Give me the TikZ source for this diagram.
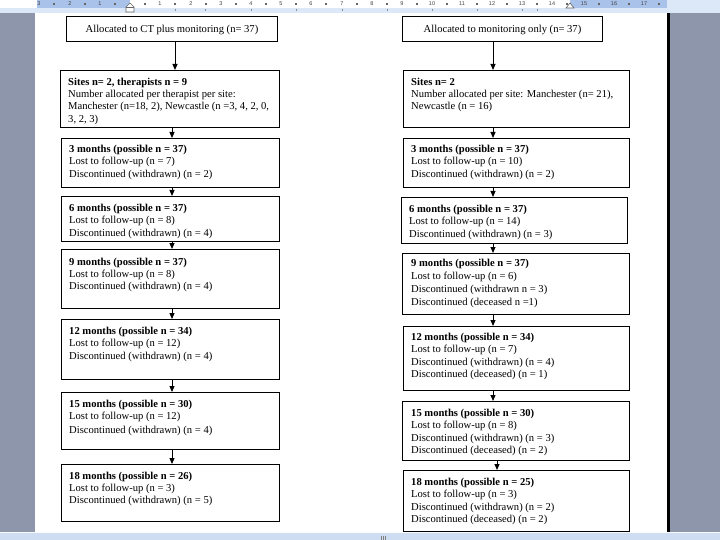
\documentclass[tikz,border=0pt]{standalone}
\usepackage{fontspec}
\setmainfont{Liberation Serif}
\newfontfamily\rulerfont{Liberation Sans}
\usetikzlibrary{arrows.meta}
\definecolor{pagegray}{HTML}{8E96AB}
\definecolor{rulerblue}{HTML}{A9C2EA}
\definecolor{rulerlight}{HTML}{DCE7F7}
\definecolor{bandblue}{HTML}{CFDDF3}
\begin{document}
\begin{tikzpicture}[x=1pt,y=-1pt,
  box/.style={draw, line width=1pt, inner sep=0pt, anchor=north west},
  txt/.style={inner sep=0pt, anchor=north west, align=left, font=\fontsize{10.6}{12.4}\selectfont},
  ctxt/.style={inner sep=0pt, font=\fontsize{10.6}{12.4}\selectfont},
  arr/.style={line width=1pt, -{Triangle[width=5pt,length=6pt]}},
  rnum/.style={inner sep=0pt, font=\rulerfont\fontsize{5.5}{6}\selectfont, text=black!75}]
\useasboundingbox (0,0) rectangle (720,540);
% window / page background
\fill[white] (0,0) rectangle (720,540);
\fill[pagegray] (0,13) rectangle (35,533);
\fill[pagegray] (670,13) rectangle (720,533);
\fill[black] (667,13) rectangle (670,533);
\fill[bandblue] (0,533) rectangle (720,540);
\draw[white!85!bandblue, line width=1pt] (0,532) -- (720,532);
\draw[black!50, line width=0.6pt] (381,536) -- (381,540) (383,536) -- (383,540) (385,536) -- (385,540);
% ruler
\fill[rulerlight] (0,0) rectangle (720,13);
\fill[white] (0,0) rectangle (37,8);
\fill[rulerblue] (37,0) rectangle (130,8);
\fill[white] (130,0) rectangle (570,8);
\fill[rulerblue] (570,0) rectangle (667,8);
\foreach \xx/\lab in {39/3,70/2,100/1,160/1,191/2,221/3,251/4,281/5,311/6,342/7,372/8,402/9,432/10,462/11,492/12,522/13,552/14,584/15,614/16,644/17}
  \node[rnum] at (\xx,4) {\lab};
\foreach \xx in {54,85,115,145,175,206,236,266,296,326,357,387,417,447,477,507,537,567,599,629,659}
  \fill[black!60] (\xx-0.7,3.3) rectangle (\xx+0.7,4.7);
\foreach \xx in {175,205,251,296,342,387,432,477,522,537}
  \draw[black!45, line width=0.6pt] (\xx,9) -- (\xx,11);
% indent markers
\draw[black!60, fill=white, line width=0.6pt] (126,12) -- (126,7) -- (130,3) -- (134,7) -- (134,12) -- cycle;
\draw[black!60, line width=0.6pt] (126,7) -- (134,7);
\draw[black!60, fill=white, line width=0.6pt] (566,8) -- (570,3) -- (574,8) -- cycle;
% ---------------- left column ----------------
\node[box, minimum width=211pt, minimum height=25pt] (L0) at (66,16) {};
\node[ctxt] (L0t) at ([yshift=-0.5pt]L0.center) {Allocated to CT plus monitoring (n= 37)};
\node[box, minimum width=219pt, minimum height=57pt] (L1) at (60,70) {};
\node[txt] (L1t) at ([xshift=8pt,yshift=-7.5pt]L1.north west) {\textbf{Sites n= 2, therapists n = 9}\\Number allocated per therapist per site:\\Manchester (n=18, 2), Newcastle (n =3, 4, 2, 0,\\3, 2, 3)};
\node[box, minimum width=218pt, minimum height=49pt] (L2) at (61,138) {};
\node[txt] (L2t) at ([xshift=8pt,yshift=-7pt]L2.north west) {\textbf{3 months (possible n = 37)}\\Lost to follow-up (n = 7)\\Discontinued (withdrawn) (n = 2)};
\node[box, minimum width=218pt, minimum height=45pt] (L3) at (61,196) {};
\node[txt] (L3t) at ([xshift=8pt,yshift=-8pt]L3.north west) {\textbf{6 months (possible n = 37)}\\Lost to follow-up (n = 8)\\Discontinued (withdrawn) (n = 4)};
\node[box, minimum width=218pt, minimum height=59pt] (L4) at (61,249) {};
\node[txt] (L4t) at ([xshift=8pt,yshift=-8.5pt]L4.north west) {\textbf{9 months (possible n = 37)}\\Lost to follow-up (n = 8)\\Discontinued (withdrawn) (n = 4)};
\node[box, minimum width=218pt, minimum height=60pt] (L5) at (61,319) {};
\node[txt] (L5t) at ([xshift=8pt,yshift=-8pt]L5.north west) {\textbf{12 months (possible n = 34)}\\Lost to follow-up (n = 12)\\Discontinued (withdrawn) (n = 4)};
\node[box, minimum width=218pt, minimum height=57pt] (L6) at (61,392) {};
\node[txt] (L6t) at ([xshift=8pt,yshift=-8pt]L6.north west) {\textbf{15 months (possible n = 30)}\\Lost to follow-up (n = 12)\\[1pt]Discontinued (withdrawn) (n = 4)};
\node[box, minimum width=218pt, minimum height=57pt] (L7) at (61,464) {};
\node[txt] (L7t) at ([xshift=8pt,yshift=-7.5pt]L7.north west) {\textbf{18 months (possible n = 26)}\\Lost to follow-up (n = 3)\\Discontinued (withdrawn) (n = 5)};
\draw[arr] (L0.south -| 175,0) -- (L1.north -| 175,0);
\foreach \a/\b in {L1/L2,L2/L3,L3/L4,L4/L5,L5/L6,L6/L7}
  \draw[arr] (\a.south -| 172,0) -- (\b.north -| 172,0);
% ---------------- right column ----------------
\node[box, minimum width=200pt, minimum height=25pt] (R0) at (402,16) {};
\node[ctxt] (R0t) at ([yshift=-0.5pt]R0.center) {Allocated to monitoring only (n= 37)};
\node[box, minimum width=226pt, minimum height=57pt] (R1) at (403,70) {};
\node[txt] (R1t) at ([xshift=8pt,yshift=-7.5pt]R1.north west) {\textbf{Sites n= 2}\\Number allocated per site: Manchester (n= 21),\\Newcastle (n = 16)};
\node[box, minimum width=226pt, minimum height=49pt] (R2) at (403,138) {};
\node[txt] (R2t) at ([xshift=8pt,yshift=-7pt]R2.north west) {\textbf{3 months (possible n = 37)}\\Lost to follow-up (n = 10)\\Discontinued (withdrawn) (n = 2)};
\node[box, minimum width=226pt, minimum height=46pt] (R3) at (401,197) {};
\node[txt] (R3t) at ([xshift=8pt,yshift=-8pt]R3.north west) {\textbf{6 months (possible n = 37)}\\Lost to follow-up (n = 14)\\Discontinued (withdrawn) (n = 3)};
\node[box, minimum width=227pt, minimum height=61pt] (R4) at (402,253) {};
\node[txt] (R4t) at ([xshift=9pt,yshift=-6pt]R4.north west) {\textbf{9 months (possible n = 37)}\\[1pt]Lost to follow-up (n = 6)\\Discontinued (withdrawn n = 3)\\[1pt]Discontinued (deceased n =1)};
\node[box, minimum width=226pt, minimum height=64pt] (R5) at (403,326) {};
\node[txt] (R5t) at ([xshift=8pt,yshift=-7pt]R5.north west) {\textbf{12 months (possible n = 34)}\\Lost to follow-up (n = 7)\\Discontinued (withdrawn) (n = 4)\\Discontinued (deceased) (n = 1)};
\node[box, minimum width=227pt, minimum height=59pt] (R6) at (402,401) {};
\node[txt] (R6t) at ([xshift=9pt,yshift=-8pt]R6.north west) {\textbf{15 months (possible n = 30)}\\Lost to follow-up (n = 8)\\Discontinued (withdrawn) (n = 3)\\Discontinued (deceased) (n = 2)};
\node[box, minimum width=226pt, minimum height=61pt] (R7) at (403,470) {};
\node[txt] (R7t) at ([xshift=8pt,yshift=-8pt]R7.north west) {\textbf{18 months (possible n = 25)}\\Lost to follow-up (n = 3)\\Discontinued (withdrawn) (n = 2)\\Discontinued (deceased) (n = 2)};
\foreach \a/\b in {R0/R1,R1/R2,R2/R3,R3/R4,R4/R5,R5/R6}
  \draw[arr] (\a.south -| 493,0) -- (\b.north -| 493,0);
\draw[arr] (R6.south -| 497,0) -- (R7.north -| 497,0);
\end{tikzpicture}
\end{document}
